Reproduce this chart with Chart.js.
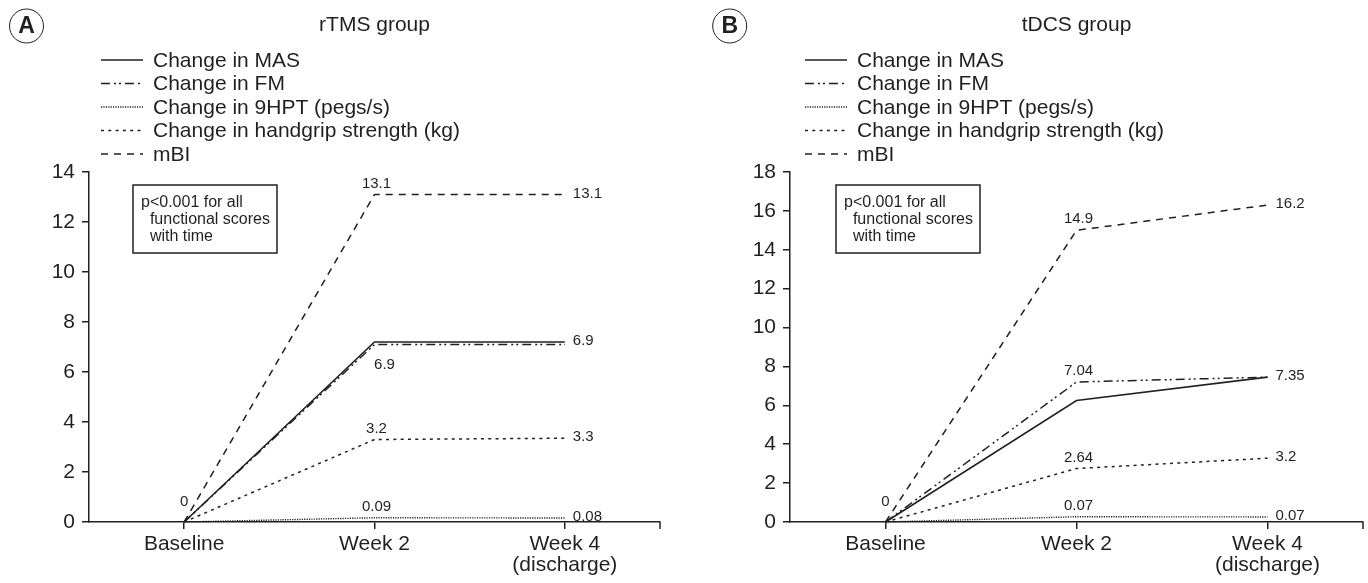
<!DOCTYPE html>
<html>
<head>
<meta charset="utf-8">
<script src="https://cdn.jsdelivr.net/npm/chart.js@4/dist/chart.umd.min.js"></script>
<style>
    html, body { margin: 0; padding: 0; background: #fff; }
    .panel { position: absolute; top: 0; width: 684px; height: 583px; }
</style>
</head>
<body>
<div class="panel" style="left:0"><canvas id="chartA"></canvas></div>
<div class="panel" style="left:684px"><canvas id="chartB"></canvas></div>
<script>
const timepoints = ["Baseline", "Week 2", ["Week 4", "(discharge)"]];
const seriesNames = [
    "Change in MAS",
    "Change in FM",
    "Change in 9HPT (pegs/s)",
    "Change in handgrip strength (kg)",
    "mBI"
];

// rTMS group (panel A)
const rtmsMas = [0, 7.2, 7.2];
const rtmsFm = [0, 7.1, 7.1];
const rtms9hpt = [0, 0.17, 0.16];
const rtmsGrip = [0, 3.3, 3.35];
const rtmsMbi = [0, 13.1, 13.1];
const rtmsMasLabels = [null, null, "6.9"];
const rtmsFmLabels = [null, "6.9", null];
const rtms9hptLabels = [null, "0.09", "0.08"];
const rtmsGripLabels = [null, "3.2", "3.3"];
const rtmsMbiLabels = ["0", "13.1", "13.1"];

// tDCS group (panel B)
const tdcsMas = [0, 6.25, 7.45];
const tdcsFm = [0, 7.2, 7.45];
const tdcs9hpt = [0, 0.27, 0.26];
const tdcsGrip = [0, 2.75, 3.28];
const tdcsMbi = [0, 15.0, 16.3];
const tdcsMasLabels = [null, null, "7.35"];
const tdcsFmLabels = [null, "7.04", null];
const tdcs9hptLabels = [null, "0.07", "0.07"];
const tdcsGripLabels = [null, "2.64", "3.2"];
const tdcsMbiLabels = ["0", "14.9", "16.2"];

const yTicksA = { max: 14, step: 2 };
const yTicksB = { max: 18, step: 2 };
const noteLines = ["p<0.001 for all", "  functional scores", "  with time"];

const INK = "#231f20";
const FONT = "'Liberation Sans', Arial, sans-serif";

// line styles, in legend order
const styles = [
    { dash: [], width: 1.6 },
    { dash: [9, 4, 2, 3, 2, 4], width: 1.5 },
    { dash: [1.2, 1.2], width: 1.4 },
    { dash: [3, 4.3], width: 1.5 },
    { dash: [7, 6], width: 1.5 }
];

function offsetFor(kind) {
    // returns [dx, dy, align]
    if (kind == "high") return [0, -20, "center"];
    if (kind == "right") return [8, -1, "left"];
    if (kind == "below") return [10, 20, "center"];
    return [2, -11, "center"];
}

const decorPlugin = {
    id: "decor",
    afterDraw(chart, args, o) {
        const ctx = chart.ctx;
        const area = chart.chartArea;
        ctx.save();

        // panel letter in a circle
        ctx.strokeStyle = INK;
        ctx.lineWidth = 1;
        ctx.beginPath();
        ctx.arc(o.letterX, 26, 17, 0, Math.PI * 2);
        ctx.stroke();
        ctx.fillStyle = INK;
        ctx.font = "bold 23px " + FONT;
        ctx.textAlign = "center";
        ctx.textBaseline = "middle";
        ctx.fillText(o.letter, o.letterX, 27);

        // title
        ctx.font = "21px " + FONT;
        ctx.fillText(o.title, (area.left + area.right) / 2, 25);

        // legend
        const rows = [60, 83.5, 107, 130.5, 154];
        chart.data.datasets.forEach((ds, i) => {
            ctx.strokeStyle = INK;
            ctx.lineWidth = ds.borderWidth;
            ctx.setLineDash(ds.borderDash);
            ctx.beginPath();
            ctx.moveTo(o.legendX, rows[i]);
            ctx.lineTo(o.legendX + 42, rows[i]);
            ctx.stroke();
            ctx.setLineDash([]);
            ctx.textAlign = "left";
            ctx.font = "21px " + FONT;
            ctx.fillText(ds.label, o.legendX + 52, rows[i] + 1);
        });

        // note box
        ctx.lineWidth = 1.5;
        ctx.strokeRect(o.boxX, 185, 144, 68);
        ctx.font = "16px " + FONT;
        noteLines.forEach((t, k) => {
            ctx.fillText(t, o.boxX + 8, 203 + k * 17);
        });

        // tick at the right end of the x axis
        ctx.lineWidth = 1.5;
        ctx.beginPath();
        ctx.moveTo(area.right, area.bottom);
        ctx.lineTo(area.right, area.bottom + 7);
        ctx.stroke();

        // value labels
        ctx.font = "15px " + FONT;
        chart.data.datasets.forEach((ds, i) => {
            const meta = chart.getDatasetMeta(i);
            ds.valueLabels.forEach((txt, j) => {
                if (txt == null) return;
                let kind = j == 0 ? "high" : j == 2 ? "right" : ds.midPlace || "above";
                const off = offsetFor(kind);
                const pt = meta.data[j];
                ctx.textAlign = off[2];
                ctx.fillText(txt, pt.x + off[0], pt.y + off[1]);
            });
        });
        ctx.restore();
    }
};

function makeDatasets(values, labels, fmBelow) {
    return values.map((v, i) => ({
        label: seriesNames[i],
        data: v,
        valueLabels: labels[i],
        midPlace: fmBelow && i == 1 ? "below" : "above",
        borderColor: INK,
        borderWidth: styles[i].width,
        borderDash: styles[i].dash,
        pointRadius: 0,
        tension: 0,
        fill: false,
        clip: false
    }));
}

function makeChart(id, datasets, yTicks, opts) {
    const ctx = document.getElementById(id).getContext("2d");
    return new Chart(ctx, {
        type: "line",
        data: { labels: timepoints, datasets: datasets },
        options: {
            responsive: true,
            maintainAspectRatio: false,
            animation: false,
            layout: { padding: { top: 172, left: opts.padLeft, right: opts.padRight, bottom: 0 } },
            plugins: {
                legend: { display: false },
                tooltip: { enabled: false },
                decor: opts
            },
            scales: {
                x: {
                    offset: true,
                    grid: { drawOnChartArea: false, drawTicks: true, tickLength: 7, color: INK, lineWidth: 1.5 },
                    border: { display: true, color: INK, width: 1.5 },
                    ticks: { color: INK, padding: 5, font: { family: FONT, size: 21, lineHeight: 1 }, maxRotation: 0 },
                    afterFit: (s) => { s.height = 61; }
                },
                y: {
                    min: 0,
                    max: yTicks.max,
                    grid: { drawOnChartArea: false, drawTicks: true, tickLength: 7, color: INK, lineWidth: 1.5 },
                    border: { display: true, color: INK, width: 1.5 },
                    ticks: { stepSize: yTicks.step, color: INK, padding: 7, font: { family: FONT, size: 21 } },
                    afterFit: (s) => { s.width = 89; }
                }
            }
        },
        plugins: [decorPlugin]
    });
}

makeChart(
    "chartA",
    makeDatasets(
        [rtmsMas, rtmsFm, rtms9hpt, rtmsGrip, rtmsMbi],
        [rtmsMasLabels, rtmsFmLabels, rtms9hptLabels, rtmsGripLabels, rtmsMbiLabels],
        true
    ),
    yTicksA,
    { padLeft: 0, padRight: 24, title: "rTMS group", letter: "A", letterX: 26.5, legendX: 101, boxX: 133 }
);

makeChart(
    "chartB",
    makeDatasets(
        [tdcsMas, tdcsFm, tdcs9hpt, tdcsGrip, tdcsMbi],
        [tdcsMasLabels, tdcsFmLabels, tdcs9hptLabels, tdcsGripLabels, tdcsMbiLabels],
        false
    ),
    yTicksB,
    { padLeft: 17, padRight: 5, title: "tDCS group", letter: "B", letterX: 45.7, legendX: 121, boxX: 152 }
);
</script>
</body>
</html>
